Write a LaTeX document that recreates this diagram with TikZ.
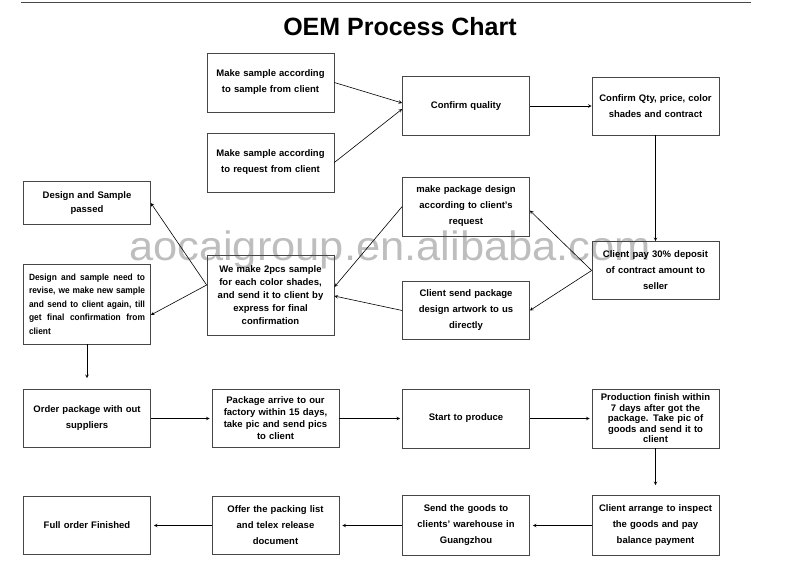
\documentclass[tikz,border=0pt]{standalone}
\usepackage{fontspec}
\setmainfont{Liberation Sans}
\newfontfamily\narrowfont[FakeStretch=0.93]{Liberation Sans}
\usepackage{tikz}
\definecolor{framegray}{RGB}{70,70,70}
\definecolor{markgray}{RGB}{190,190,190}

\begin{document}
\begin{tikzpicture}[
    x=1pt, y=-1pt,
    box/.style={rectangle, draw=framegray, line width=0.7pt, text width=119pt, inner xsep=4pt, align=center, minimum height=59pt, font=\bfseries\fontsize{9.5}{16}\selectfont},
    arrow/.style={->, >=stealth, line width=0.6pt, black}
]
    \useasboundingbox (0,0) rectangle (808,582);
    \draw[framegray, line width=0.6pt] (21,2) -- (751,2);

    % watermark behind everything
    \node[text=markgray, font=\fontsize{41}{41}\selectfont, xscale=1.06, anchor=base] (mark) at (390,260) {aocaigroup.en.alibaba.com};

    \node[font=\bfseries\fontsize{25}{30}\selectfont] (title) at (400,27) {OEM Process Chart};

    % Top block
    \node[box] (fromsample) at (270.5,82.5) {Make sample according\\ to sample from client};
    \node[box] (fromrequest) at (270.5,162.5) {Make sample according\\ to request from client};
    \node[box] (quality) at (466,106) {Confirm quality};
    \node[box, minimum height=58pt] (contract) at (655.5,106) {Confirm Qty, price, color\\ shades and contract};

    % Middle block
    \node[box, minimum height=43pt, font=\bfseries\fontsize{9.5}{14}\selectfont] (passed) at (87,203) {Design and Sample\\ passed};
    \node[box, minimum height=80pt, align=justify, text width=116pt, inner xsep=5.5pt, font=\narrowfont\bfseries\fontsize{9}{13.5}\selectfont] (revise) at (87,304) {Design and sample need to\linebreak revise, we make new sample\linebreak and send to client again, till\linebreak get final confirmation from\linebreak client};
    \node[box, minimum height=80pt, font=\bfseries\fontsize{9.5}{13}\selectfont] (twopcs) at (270.5,295) {We make 2pcs sample\\ for each color shades,\\ and send it to client by\\ express for final\\ confirmation};
    \node[box] (pkgdesign) at (466,206.5) {make package design\\ according to client's\\ request};
    \node[box, minimum height=58pt] (artwork) at (466,310.5) {Client send package\\ design artwork to us\\ directly};
    \node[box, minimum height=58pt] (deposit) at (655.5,270.5) {Client pay 30\% deposit\\ of contract amount to\\ seller};

    % Production row
    \node[box, minimum height=58pt] (order) at (87,418.5) {Order package with out\\ suppliers};
    \node[box, minimum height=58pt, font=\bfseries\fontsize{9.5}{12}\selectfont] (arrive) at (275.5,418.5) {Package arrive to our\\ factory within 15 days,\\ take pic and send pics\\ to client};
    \node[box] (produce) at (466,418.5) {Start to produce};
    \node[box, font=\bfseries\fontsize{9.5}{10.5}\selectfont] (finish) at (655.5,418.5) {Production finish within\\ 7 days after got the\\ package. Take pic of\\ goods and send it to\\ client};

    % Shipping row
    \node[box, minimum height=58pt] (full) at (87,525.5) {Full order Finished};
    \node[box, minimum height=58pt] (offer) at (275.5,525.5) {Offer the packing list\\ and telex release\\ document};
    \node[box, minimum height=60pt] (goods) at (466,525.5) {Send the goods to\\ clients' warehouse in\\ Guangzhou};
    \node[box, minimum height=60pt] (inspect) at (655.5,525.5) {Client arrange to inspect\\ the goods and pay\\ balance payment};

    % Arrows
    \draw[arrow] (fromsample.east) -- ([yshift=3pt]quality.west);
    \draw[arrow] (fromrequest.east) -- ([yshift=-3pt]quality.west);
    \draw[arrow] (quality) -- (contract);
    \draw[arrow] (contract) -- (deposit);
    \draw[arrow] (deposit.west) -- ([yshift=-4pt]pkgdesign.east);
    \draw[arrow] (deposit.west) -- (artwork.east);
    \draw[arrow] (pkgdesign.west) -- ([yshift=8pt]twopcs.east);
    \draw[arrow] (artwork.west) -- ([yshift=-1pt]twopcs.east);
    \draw[arrow] ([yshift=10pt]twopcs.west) -- (passed.east);
    \draw[arrow] ([yshift=10pt]twopcs.west) -- ([yshift=-11pt]revise.east);
    \draw[arrow, shorten >=11pt] (revise) -- (order);
    \draw[arrow, shorten >=2pt] (order) -- (arrive);
    \draw[arrow, shorten >=2pt] (arrive) -- (produce);
    \draw[arrow, shorten >=2pt] (produce) -- (finish);
    \draw[arrow, shorten >=10pt] (finish) -- (inspect);
    \draw[arrow, shorten >=3pt] (inspect) -- (goods);
    \draw[arrow, shorten >=3pt] (goods) -- (offer);
    \draw[arrow, shorten >=3pt] (offer) -- (full);
\end{tikzpicture}
\end{document}
